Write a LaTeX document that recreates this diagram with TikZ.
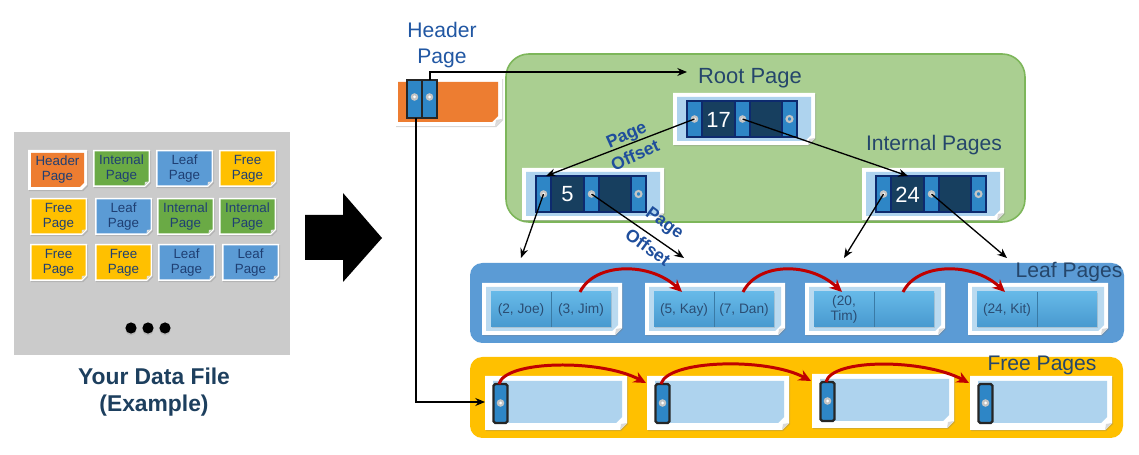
\documentclass[tikz,border=0pt]{standalone}
\usepackage{fontspec}
\setmainfont{Liberation Sans}
\usetikzlibrary{arrows.meta,shadows,calc}
\definecolor{grayp}{HTML}{CBCBCB}
\definecolor{mOrange}{HTML}{ED7D31}
\definecolor{mGreen}{HTML}{6AAA45}
\definecolor{mBlue}{HTML}{5B9BD5}
\definecolor{mYellow}{HTML}{FFC000}
\definecolor{txtBlue}{HTML}{1F3F73}
\definecolor{darkTitle}{HTML}{1D3F5E}
\definecolor{hdrBlue}{HTML}{2157A3}
\definecolor{lblDark}{HTML}{25466B}
\definecolor{greenFill}{HTML}{AACF91}
\definecolor{greenEdge}{HTML}{7DB65A}
\definecolor{leafBand}{HTML}{5B9BD5}
\definecolor{freeBand}{HTML}{FFC000}
\definecolor{cardBlue}{HTML}{AED3EE}
\definecolor{keyNavy}{HTML}{173F5F}
\definecolor{edgeNavy}{HTML}{0D2A6E}
\definecolor{slotBlue}{HTML}{2E86C6}
\definecolor{cellTop}{HTML}{66B9E8}
\definecolor{cellBot}{HTML}{4899CF}
\definecolor{cellTxt}{HTML}{2B4D73}
\definecolor{arrRed}{HTML}{C00000}
\definecolor{offBlue}{HTML}{1F4E9C}
\definecolor{dotGray}{HTML}{C4C4C4}

\newcommand{\PgCard}[2]{%
  \fill[white, cardshadow] (0,0) -- (#1,0) -- (#1,#2-7) -- (#1-7,#2) -- (0,#2) -- cycle;
  \fill[black!15] (#1,#2-7) -- (#1-7,#2) -- (#1-6,#2-6) -- cycle;}

\newcommand{\SlotDot}[2]{%
  \fill[dotGray] (#1,#2) circle (3.8); \fill[white] (#1,#2) circle (1.5);}

\newcommand{\IntPg}[4]{%
\begin{scope}[shift={(#2,#3)}]
  \PgCard{142}{52}
  \fill[cardBlue] (4,4) -- (138,4) -- (138,42) -- (132,48) -- (4,48) -- cycle;
  \fill[keyNavy] (14,8) rectangle (124,44);
  \fill[slotBlue] (14,8) rectangle (29,44) (62,8) rectangle (77,44) (109,8) rectangle (124,44);
  \draw[edgeNavy, line width=1pt] (14,8) rectangle (124,44) (29,8) -- (29,44) (62,8) -- (62,44) (77,8) -- (77,44) (109,8) -- (109,44);
  \node[keytxt] (#1-key) at (45.5,26.5) {#4};
  \SlotDot{21.5}{26}
  \SlotDot{69.5}{26}
  \draw[dotGray, line width=1.2pt] (116.5,26) circle (3);
  \coordinate (#1-s1) at (21.5,26);
  \coordinate (#1-s2) at (69.5,26);
  \coordinate (#1-t1) at (24,8);
  \coordinate (#1-tk) at (46,8);
\end{scope}}

\newcommand{\LeafPg}[5]{%
\begin{scope}[shift={(#2,#3)}]
  \PgCard{140}{52}
  \fill[cardBlue!85!white] (4,4) -- (136,4) -- (136,42) -- (130,48) -- (4,48) -- cycle;
  \shade[top color=cellTop, bottom color=cellBot, drop shadow={opacity=0.25, shadow xshift=0.5pt, shadow yshift=-0.6pt}] (9,9) rectangle (129,44);
  \draw[cellBot!80!black, line width=0.4pt] (69,9) -- (69,44);
  \node[celltxt] (#1-a) at (39,26.5) {#4};
  \node[celltxt] (#1-b) at (99,26.5) {#5};
  \coordinate (#1-out) at (98,9);
  \coordinate (#1-in) at (37,9);
  \coordinate (#1-above) at (39,-25);
\end{scope}}

\newcommand{\FreePg}[3]{%
\begin{scope}[shift={(#2,#3)}]
  \PgCard{142}{54}
  \fill[cardBlue] (8,5) -- (137,5) -- (137,41) -- (131,47) -- (8,47) -- cycle;
  \filldraw[fill=slotBlue, draw=black!85, line width=1.3pt, rounded corners=1pt] (8.5,8) rectangle (22.5,47);
  \SlotDot{15.5}{27}
  \coordinate (#1-top) at (14,8);
  \coordinate (#1-in) at (-1,7);
  \coordinate (#1-left) at (0,26);
\end{scope}}

\newcommand{\MiniPg}[6]{% name,x,y,color,l1,l2
\begin{scope}[shift={(#2,#3)}]
  \fill[white, cardshadow] (0,0) -- (57,0) -- (57,32) -- (52,37) -- (0,37) -- cycle;
  \fill[#4] (1.5,1.5) -- (55.5,1.5) -- (55.5,31.5) -- (51.5,35.5) -- (1.5,35.5) -- cycle;
  \fill[black!12] (55.5,31.5) -- (51.5,35.5) -- (52,32) -- cycle;
  \node[minitxt] (#1) at (28.5,18.5) {#5\\#6};
\end{scope}}

\begin{document}
\begin{tikzpicture}[x=0.02cm,y=-0.02cm,
  conn/.style={-{Stealth[length=5.5pt,width=4.5pt]}, line width=0.75pt, black},
  redarr/.style={-{Stealth[length=7pt,width=6.5pt]}, line width=1.7pt, arrRed},
  lbl/.style={font=\fontsize{12}{14}\selectfont, text=lblDark, inner sep=0pt},
  minitxt/.style={font=\fontsize{7.6}{8.6}\selectfont, text=txtBlue, align=center, inner sep=0pt},
  keytxt/.style={font=\fontsize{12.5}{14}\selectfont, text=white, inner sep=0pt},
  celltxt/.style={font=\fontsize{7.8}{9}\selectfont, text=cellTxt, align=center, inner sep=0pt},
  offtxt/.style={font=\bfseries\fontsize{10}{11}\selectfont, text=offBlue, inner sep=0pt},
  cardshadow/.style={drop shadow={opacity=0.3, shadow xshift=0.7pt, shadow yshift=-0.7pt}}
]
\fill[white] (0,0) rectangle (1139,455);
\useasboundingbox (0,0) rectangle (1139,455);

% ---------- left: data file ----------
\fill[grayp] (14,132) rectangle (290,355);
\begin{scope}[shift={(28,150)}]
  \fill[white, cardshadow] (0,0) -- (59,0) -- (59,35) -- (54,40) -- (0,40) -- cycle;
  \fill[mOrange] (3,3) -- (56,3) -- (56,33) -- (52,37) -- (3,37) -- cycle;
  \node[minitxt] (mh) at (29.5,19.5) {Header\\Page};
\end{scope}
\MiniPg{m12}{93}{150}{mGreen}{Internal}{Page}
\MiniPg{m13}{156}{150}{mBlue}{Leaf}{Page}
\MiniPg{m14}{219}{150}{mYellow}{Free}{Page}
\MiniPg{m21}{30}{198}{mYellow}{Free}{Page}
\MiniPg{m22}{95}{198}{mBlue}{Leaf}{Page}
\MiniPg{m23}{157}{198}{mGreen}{Internal}{Page}
\MiniPg{m24}{219}{198}{mGreen}{Internal}{Page}
\MiniPg{m31}{30}{244}{mYellow}{Free}{Page}
\MiniPg{m32}{95}{244}{mYellow}{Free}{Page}
\MiniPg{m33}{158}{244}{mBlue}{Leaf}{Page}
\MiniPg{m34}{222}{244}{mBlue}{Leaf}{Page}
\foreach \dx in {131,148,165}
  \fill[black, drop shadow={opacity=0.25, shadow xshift=0pt, shadow yshift=-1pt}] (\dx,328) circle (5.6);
\node[font=\bfseries\fontsize{13}{15}\selectfont, text=darkTitle, align=center, inner sep=0pt] (dfile) at (154,392) {Your Data File\\(Example)};

% ---------- big arrow ----------
\fill[black] (305,215) -- (343,215) -- (343,193) -- (382,238) -- (343,282) -- (343,260) -- (305,260) -- cycle;

% ---------- bands ----------
\filldraw[fill=greenFill, draw=greenEdge, line width=0.9pt, rounded corners=13pt] (506,54) rectangle (1025,222);
\fill[leafBand, rounded corners=7pt] (470,263) rectangle (1124,343);
\fill[freeBand, rounded corners=7pt] (470,357) rectangle (1123,438);

% ---------- header page ----------
\node[font=\fontsize{12}{14.7}\selectfont, text=hdrBlue, align=center, inner sep=0pt] (hplbl) at (442,45) {Header\\Page};
\begin{scope}[shift={(395,78)}]
  \PgCard{107}{48}
  \fill[mOrange] (3,4) -- (103,4) -- (103,38) -- (97,44) -- (3,44) -- cycle;
  \filldraw[fill=slotBlue, draw=black!85, line width=1.3pt] (12,2) rectangle (27,40);
  \filldraw[fill=slotBlue, draw=black!85, line width=1.3pt] (27,2) rectangle (42,40);
  \SlotDot{19.5}{19}
  \SlotDot{34.5}{19}
  \coordinate (hp-b) at (21,40);
  \coordinate (hp-t) at (35,2);
\end{scope}

% ---------- internal pages ----------
\node[lbl, font=\fontsize{12.5}{14}\selectfont] (rootlbl) at (750,78) {Root Page};
\coordinate (rootarr) at (687,72);
\node[lbl] (intlbl) at (934,145) {Internal Pages};
\IntPg{root}{673}{93}{17}
\IntPg{n5}{522}{168}{5}
\IntPg{n24}{862}{168}{24}

% ---------- leaf pages ----------
\node[lbl] (leaflbl) at (1069,272) {Leaf Pages};
\LeafPg{l1}{482}{283}{(2, Joe)}{(3, Jim)}
\LeafPg{l2}{645}{283}{(5, Kay)}{(7, Dan)}
\LeafPg{l3}{805}{283}{(20,\\Tim)}{}
\LeafPg{l4}{968}{283}{(24, Kit)}{}

% ---------- free pages ----------
\node[lbl] (freelbl) at (1042,365) {Free Pages};
\FreePg{f1}{485}{376}
\FreePg{f2}{647}{376}
\FreePg{f3}{812}{374}
\FreePg{f4}{970}{376}

% ---------- connectors ----------
\draw[conn] (hp-t) |- (rootarr);
\draw[conn] (hp-b) |- (f1-left);
\draw[conn] (root-s1) -- (n5-t1);
\draw[conn] (root-s2) -- (n24-tk);
\draw[conn] (n5-s1) -- (l1-above);
\draw[conn] (n5-s2) -- (l2-above);
\draw[conn] (n24-s1) -- (l3-above);
\draw[conn] (n24-s2) -- (l4-above);

\node[offtxt, rotate=24] (off1a) at (627,136) {Page};
\node[offtxt, rotate=24] (off1b) at (635,155) {Offset};
\node[offtxt, rotate=-36] (off2a) at (664,224) {Page};
\node[offtxt, rotate=-36] (off2b) at (648,247) {Offset};

% red sibling / free-list arrows
\draw[redarr] (l1-out) .. controls +(15,-30) and +(-32,-30) .. (l2-in);
\draw[redarr] (l2-out) .. controls +(15,-30) and +(-32,-30) .. (l3-in);
\draw[redarr] (l3-out) .. controls +(15,-30) and +(-32,-30) .. (l4-in);
\draw[redarr] (f1-top) .. controls +(6,-24) and +(-45,-24) .. (f2-in);
\draw[redarr] (f2-top) .. controls +(6,-24) and +(-45,-24) .. (f3-in);
\draw[redarr] (f3-top) .. controls +(6,-24) and +(-45,-24) .. (f4-in);
\end{tikzpicture}
\end{document}
